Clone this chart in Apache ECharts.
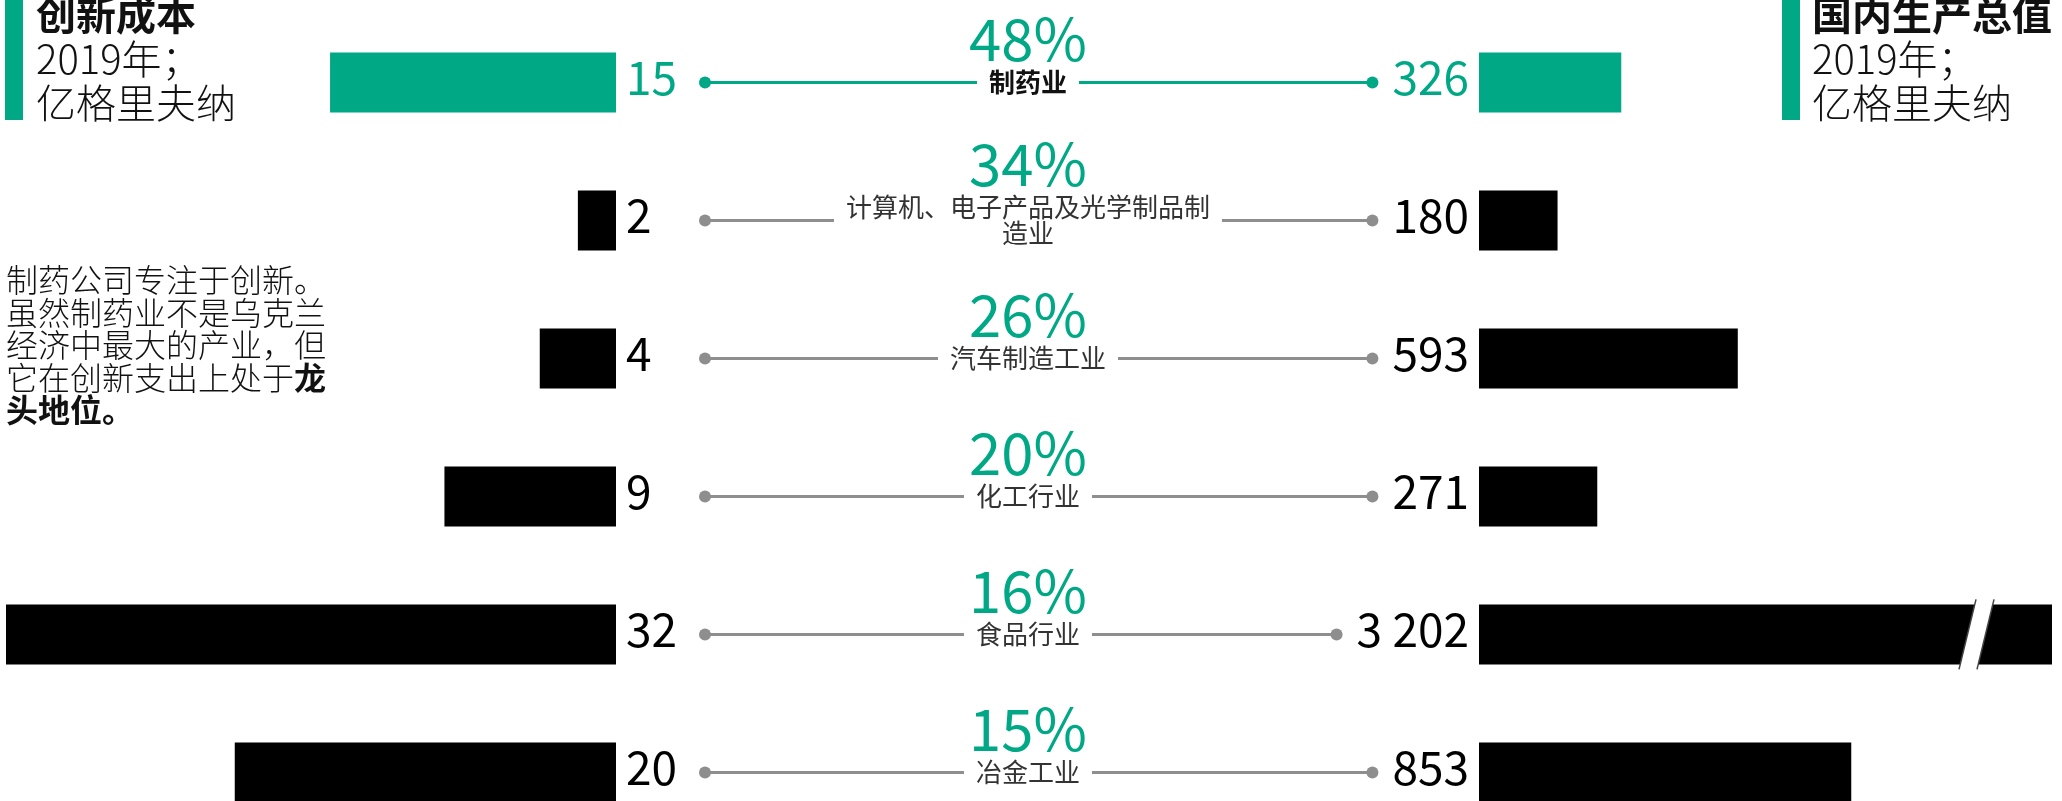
<!DOCTYPE html>
<html>
<head>
<meta charset="utf-8">
<script src="https://cdn.jsdelivr.net/npm/echarts@6/dist/echarts.min.js"></script>
<style>
  html, body { margin: 0; padding: 0; background: #fff; }
  #chart { width: 2062px; height: 801px; }
</style>
</head>
<body>
<div id="chart"></div>
<script>
// Industries, top to bottom
const industries = ['制药业', '计算机、电子产品及光学制品制\n造业', '汽车制造工业', '化工行业', '食品行业', '冶金工业'];
// Innovation spending, 2019, UAH bn
const innovationCost = [15, 2, 4, 9, 32, 20];
// Gross output, 2019, UAH bn
const gdp = [326, 180, 593, 271, 3202, 853];
// Share of innovating companies, %
const innovationShare = [48, 34, 26, 20, 16, 15];
// Row that is emphasised in green
const highlightRow = 0;

const GREEN = '#00a886';
const GRAY = '#8e8e8e';
const INK = '#111111';
const FONT = '"Noto Sans CJK SC", "Noto Sans", sans-serif';

// ---- layout ----
const W = 2062;
const GRID_TOP = 13.4;
const GRID_HEIGHT = 828;       // six rows of 138px; the last one runs past the bottom edge
const LEFT_GRID = { left: 6, right: W - 616 };
const MID_GRID = { left: 705, right: W - 1373 };
const RIGHT_GRID = { left: 1479, right: 10 };
const LEFT_MAX = 32;
const RIGHT_MAX = 1313;        // bars above this are cut and marked with a break
const BREAK_AT = 1140;         // where the break sign sits on a cut bar
const LABEL_POS = 0.4835;      // centre of the industry name along the connector
const VALUE_SIZE = 46;
const VALUE_GAP = 10;
const DOT_GAP = 20;
const CAT_SIZE = 26;
const CAT_LH = 26;
const PCT_SIZE = 58;
const BAR_H = 60;

const fmt = v => String(v).replace(/\B(?=(\d{3})+(?!\d))/g, ' ');

const measureCtx = document.createElement('canvas').getContext('2d');
function textWidth(txt, font) {
  measureCtx.font = font;
  return measureCtx.measureText(txt).width;
}

const valueFont = VALUE_SIZE + 'px ' + FONT;
const leftBarEnd = W - LEFT_GRID.right;
const rightBarStart = RIGHT_GRID.left;

function rowColor(i, other) { return i === highlightRow ? GREEN : other; }

function renderConnector(params, api) {
  const i = params.dataIndex;
  const hl = i === highlightRow;
  const color = hl ? GREEN : GRAY;
  const pL = api.coord([0, i]);
  const y = pL[1];
  const xR = api.coord([1, i])[0];
  const xC = api.coord([LABEL_POS, i])[0];
  const lines = industries[i].split('\n');
  const catFont = (hl ? 'bold ' : '') + CAT_SIZE + 'px ' + FONT;
  const catW = Math.max.apply(null, lines.map(l => textWidth(l, catFont)));
  const leftLabelEnd = leftBarEnd + VALUE_GAP + textWidth(fmt(innovationCost[i]), valueFont);
  const rightLabelStart = rightBarStart - VALUE_GAP - textWidth(fmt(gdp[i]), valueFont);
  const x0 = Math.max(pL[0], leftLabelEnd + DOT_GAP);
  const x1 = Math.min(xR, rightLabelStart - DOT_GAP);
  const firstLineY = y - (lines.length - 1) * CAT_LH / 2;
  return {
    type: 'group',
    children: [
      { type: 'line', shape: { x1: x0, y1: y, x2: xC - catW / 2 - 12, y2: y }, style: { stroke: color, lineWidth: 3 } },
      { type: 'line', shape: { x1: xC + catW / 2 + 12, y1: y, x2: x1, y2: y }, style: { stroke: color, lineWidth: 3 } },
      { type: 'circle', shape: { cx: x0, cy: y, r: 6 }, style: { fill: color } },
      { type: 'circle', shape: { cx: x1, cy: y, r: 6 }, style: { fill: color } },
      {
        type: 'text', x: xC, y: y,
        style: {
          text: industries[i], fontFamily: FONT, fontSize: CAT_SIZE,
          fontWeight: hl ? 'bold' : 'normal', lineHeight: CAT_LH,
          fill: hl ? INK : '#333', align: 'center', verticalAlign: 'middle'
        }
      },
      {
        type: 'text', x: xC, y: firstLineY - 43,
        style: {
          text: innovationShare[i] + '%', fontFamily: FONT, fontSize: PCT_SIZE,
          fill: GREEN, align: 'center', verticalAlign: 'middle'
        }
      }
    ]
  };
}

function renderBreak(params, api) {
  const p = api.coord([api.value(0), api.value(1)]);
  const cx = p[0], cy = p[1];
  const H = 35, hw = 9, dx = 8.5;
  const tl = [cx - hw + dx, cy - H], tr = [cx + hw + dx, cy - H];
  const br = [cx + hw - dx, cy + H], bl = [cx - hw - dx, cy + H];
  return {
    type: 'group',
    children: [
      { type: 'polygon', shape: { points: [tl, tr, br, bl] }, style: { fill: '#fff' } },
      { type: 'line', shape: { x1: tl[0], y1: tl[1], x2: bl[0], y2: bl[1] }, style: { stroke: '#444', lineWidth: 1.5 } },
      { type: 'line', shape: { x1: tr[0], y1: tr[1], x2: br[0], y2: br[1] }, style: { stroke: '#444', lineWidth: 1.5 } }
    ]
  };
}

const yCat = idx => ({
  type: 'category', gridIndex: idx, data: industries, inverse: true, show: false, boundaryGap: true
});

const valueLabel = (pos) => ({
  show: true, position: pos, distance: VALUE_GAP, offset: [0, -5],
  fontFamily: FONT, fontSize: VALUE_SIZE,
  formatter: p => fmt(p.value)
});

const gridAt = g => ({
  left: g.left, right: g.right, top: GRID_TOP, height: GRID_HEIGHT,
  outerBoundsMode: 'none', containLabel: false
});

const option = {
  animation: false,
  backgroundColor: '#fff',
  grid: [gridAt(LEFT_GRID), gridAt(MID_GRID), gridAt(RIGHT_GRID)],
  xAxis: [
    { type: 'value', gridIndex: 0, min: 0, max: LEFT_MAX, inverse: true, show: false },
    { type: 'value', gridIndex: 1, min: 0, max: 1, show: false },
    { type: 'value', gridIndex: 2, min: 0, max: RIGHT_MAX, show: false }
  ],
  yAxis: [yCat(0), yCat(1), yCat(2)],
  series: [
    {
      type: 'bar', xAxisIndex: 0, yAxisIndex: 0, barWidth: BAR_H, clip: true,
      label: valueLabel('right'),
      data: innovationCost.map((v, i) => ({
        value: v, itemStyle: { color: rowColor(i, '#000') }, label: { color: rowColor(i, '#000') }
      }))
    },
    {
      type: 'custom', xAxisIndex: 1, yAxisIndex: 1,
      renderItem: renderConnector,
      data: innovationShare.map((p, i) => [0, i, p])
    },
    {
      type: 'bar', xAxisIndex: 2, yAxisIndex: 2, barWidth: BAR_H, clip: true,
      label: valueLabel('left'),
      data: gdp.map((v, i) => ({
        value: v, itemStyle: { color: rowColor(i, '#000') }, label: { color: rowColor(i, '#000') }
      }))
    },
    {
      type: 'custom', xAxisIndex: 2, yAxisIndex: 2, z: 5,
      renderItem: renderBreak,
      data: gdp.map((v, i) => v > RIGHT_MAX ? [BREAK_AT, i] : null).filter(Boolean)
    }
  ],
  graphic: [
    { type: 'rect', left: 5, top: 0, shape: { width: 18, height: 120 }, style: { fill: GREEN } },
    {
      type: 'text', x: 36, y: -7,
      style: {
        text: '{b|创新成本}\n2019年；\n亿格里夫纳',
        fontFamily: FONT, fontSize: 40, lineHeight: 44, fill: INK, fontWeight: 300,
        rich: { b: { fontFamily: FONT, fontSize: 40, lineHeight: 44, fontWeight: 'bold', fill: INK } }
      }
    },
    { type: 'rect', left: 1782, top: 0, shape: { width: 18, height: 120 }, style: { fill: GREEN } },
    {
      type: 'text', x: 1812, y: -7,
      style: {
        text: '{b|国内生产总值}\n2019年；\n亿格里夫纳',
        fontFamily: FONT, fontSize: 40, lineHeight: 44, fill: INK, fontWeight: 300,
        rich: { b: { fontFamily: FONT, fontSize: 40, lineHeight: 44, fontWeight: 'bold', fill: INK } }
      }
    },
    {
      type: 'text', x: 6, y: 264,
      style: {
        text: '制药公司专注于创新。\n虽然制药业不是乌克兰\n经济中最大的产业，但\n它在创新支出上处于{b|龙}\n{b|头地位。}',
        fontFamily: FONT, fontSize: 32, lineHeight: 32.5, fill: INK, fontWeight: 300,
        rich: { b: { fontFamily: FONT, fontSize: 32, lineHeight: 32.5, fontWeight: 'bold', fill: INK } }
      }
    }
  ]
};

const chart = echarts.init(document.getElementById('chart'), null, { renderer: 'canvas' });
chart.setOption(option);
</script>
</body>
</html>
